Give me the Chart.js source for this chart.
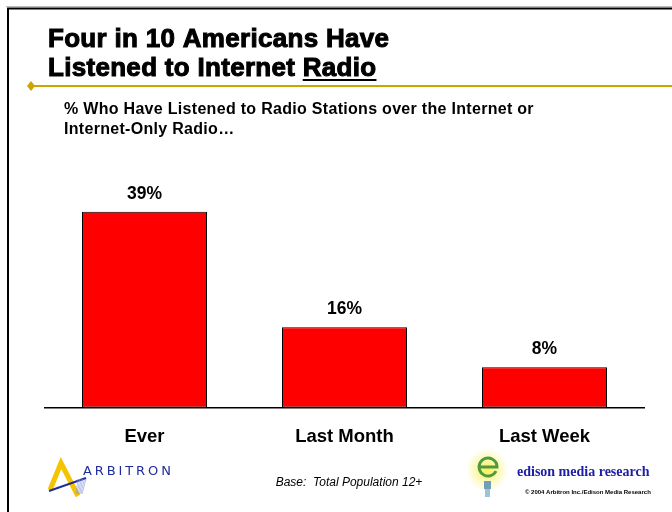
<!DOCTYPE html>
<html>
<head>
<meta charset="utf-8">
<script src="https://cdn.jsdelivr.net/npm/chart.js@4/dist/chart.umd.min.js"></script>
<style>
  body { margin: 0; background: #fff; }
  canvas { display: block; }
</style>
</head>
<body>
<canvas id="radioChart" width="672" height="512"></canvas>
<script>
const categories = ["Ever", "Last Month", "Last Week"];
const listened = [39, 16, 8];

const titleLines = ["Four in 10 Americans Have", "Listened to Internet "];
const titleUnderlined = "Radio";
const subtitleLines = [
  "% Who Have Listened to Radio Stations over the Internet or",
  "Internet-Only Radio\u2026",
];
const baseNote = "Base:  Total Population 12+";

// slide frame, heading, gold rule and footer logos
const slideDecor = {
  id: "slideDecor",
  beforeDraw(chart) {
    const ctx = chart.ctx;
    ctx.save();
    ctx.fillStyle = "#fff";
    ctx.fillRect(0, 0, chart.width, chart.height);

    // frame
    ctx.strokeStyle = "#bbb";
    ctx.lineWidth = 1;
    ctx.beginPath();
    ctx.moveTo(6, 6.5);
    ctx.lineTo(672, 6.5);
    ctx.stroke();
    ctx.strokeStyle = "#000";
    ctx.lineWidth = 2;
    ctx.beginPath();
    ctx.moveTo(8, 512);
    ctx.lineTo(8, 8.5);
    ctx.lineTo(672, 8.5);
    ctx.stroke();

    // heading
    ctx.fillStyle = "#000";
    ctx.strokeStyle = "#000";
    ctx.lineWidth = 1;
    ctx.font = "bold 26px 'Liberation Sans', Arial, sans-serif";
    ctx.letterSpacing = "0.3px";
    ctx.textBaseline = "alphabetic";
    ctx.textAlign = "left";
    ctx.fillText(titleLines[0], 48, 47);
    ctx.strokeText(titleLines[0], 48, 47);
    ctx.fillText(titleLines[1], 48, 76);
    ctx.strokeText(titleLines[1], 48, 76);
    const rx = 48 + ctx.measureText(titleLines[1]).width;
    ctx.fillText(titleUnderlined, rx, 76);
    ctx.strokeText(titleUnderlined, rx, 76);
    const rw = ctx.measureText(titleUnderlined).width;
    ctx.lineWidth = 2;
    ctx.beginPath();
    ctx.moveTo(rx, 80);
    ctx.lineTo(rx + rw, 80);
    ctx.stroke();

    // gold rule with diamond
    ctx.strokeStyle = "#c9a700";
    ctx.fillStyle = "#c9a700";
    ctx.lineWidth = 2;
    ctx.beginPath();
    ctx.moveTo(31, 86);
    ctx.lineTo(672, 86);
    ctx.stroke();
    ctx.beginPath();
    ctx.moveTo(31, 81);
    ctx.lineTo(35, 86);
    ctx.lineTo(31, 91);
    ctx.lineTo(27, 86);
    ctx.closePath();
    ctx.fill();

    // subtitle
    ctx.fillStyle = "#000";
    ctx.font = "bold 16px 'Liberation Sans', Arial, sans-serif";
    ctx.letterSpacing = "0.3px";
    ctx.fillText(subtitleLines[0], 64, 114);
    ctx.fillText(subtitleLines[1], 64, 134);
    ctx.letterSpacing = "0px";

    // base note
    ctx.font = "italic 12px 'Liberation Sans', Arial, sans-serif";
    ctx.textAlign = "center";
    ctx.fillText(baseNote, 349, 486);

    // Arbitron mark
    ctx.strokeStyle = "#f5c400";
    ctx.lineWidth = 5;
    ctx.lineJoin = "miter";
    ctx.beginPath();
    ctx.moveTo(50, 490);
    ctx.lineTo(61, 463);
    ctx.lineTo(78, 496);
    ctx.stroke();
    ctx.strokeStyle = "#1f2d9c";
    ctx.lineWidth = 2;
    ctx.beginPath();
    ctx.moveTo(49, 491);
    ctx.lineTo(86, 478);
    ctx.stroke();
    ctx.strokeStyle = "#8a96d6";
    ctx.lineWidth = 0.6;
    for (let i = 0; i < 6; i++) {
      ctx.beginPath();
      ctx.moveTo(78 + i * 1.6, 479);
      ctx.lineTo(76 + i * 1.2, 494);
      ctx.stroke();
    }
    ctx.fillStyle = "#1f2d9c";
    ctx.font = "13px 'DejaVu Sans', sans-serif";
    ctx.textAlign = "left";
    ctx.textBaseline = "middle";
    ctx.letterSpacing = "2.9px";
    ctx.fillText("ARBITRON", 83, 472);
    ctx.letterSpacing = "0px";

    // Edison bulb mark
    const glow = ctx.createRadialGradient(487, 470, 2, 487, 470, 22);
    glow.addColorStop(0, "rgba(250,240,90,0.95)");
    glow.addColorStop(1, "rgba(250,245,130,0)");
    ctx.fillStyle = glow;
    ctx.beginPath();
    ctx.ellipse(487, 470, 20, 22, 0, 0, Math.PI * 2);
    ctx.fill();
    ctx.strokeStyle = "#4f9a3c";
    ctx.lineWidth = 3;
    ctx.beginPath();
    ctx.arc(488, 467, 9, 0.15 * Math.PI, 2 * Math.PI);
    ctx.lineTo(479, 467);
    ctx.stroke();
    ctx.fillStyle = "#6fa0b8";
    ctx.fillRect(484, 481, 7, 8);
    ctx.fillStyle = "#9cc4d4";
    ctx.fillRect(485, 489, 5, 8);

    ctx.fillStyle = "#1c1ca8";
    ctx.font = "bold 14px 'Liberation Serif', 'Times New Roman', serif";
    ctx.fillText("edison media research", 517, 472);
    ctx.fillStyle = "#000";
    ctx.font = "bold 6px 'Liberation Sans', Arial, sans-serif";
    ctx.fillText("\u00a9 2004 Arbitron Inc./Edison Media Research", 525, 492);
    ctx.restore();
  },
};

// percentage labels above each bar
const barValues = {
  id: "barValues",
  afterDatasetsDraw(chart) {
    const ctx = chart.ctx;
    const meta = chart.getDatasetMeta(0);
    ctx.save();
    ctx.fillStyle = "#000";
    ctx.font = "bold 17.5px 'Liberation Sans', Arial, sans-serif";
    ctx.textAlign = "center";
    ctx.textBaseline = "middle";
    meta.data.forEach((bar, i) => {
      ctx.fillText(listened[i] + "%", bar.x, bar.y - 18);
    });
    ctx.restore();
  },
};

const ctx = document.getElementById("radioChart").getContext("2d");
new Chart(ctx, {
  type: "bar",
  data: {
    labels: categories,
    datasets: [
      {
        data: listened,
        backgroundColor: "#ff0000",
        borderColor: "#000",
        borderWidth: 1,
        borderSkipped: false,
        barPercentage: 0.625,
        categoryPercentage: 1,
      },
    ],
  },
  options: {
    responsive: false,
    animation: false,
    layout: {
      padding: { left: 44.5, right: 27.5, top: 106.5, bottom: 46.4 },
    },
    plugins: {
      legend: { display: false },
      tooltip: { enabled: false },
    },
    scales: {
      y: {
        display: false,
        min: 0,
        max: 60,
      },
      x: {
        grid: { display: false, drawTicks: false },
        border: { display: true, color: "#000", width: 1.5 },
        ticks: {
          color: "#000",
          padding: 18,
          maxRotation: 0,
          font: { family: "'Liberation Sans', Arial, sans-serif", size: 18.5, weight: "bold" },
        },
      },
    },
  },
  plugins: [slideDecor, barValues],
});
</script>
</body>
</html>
